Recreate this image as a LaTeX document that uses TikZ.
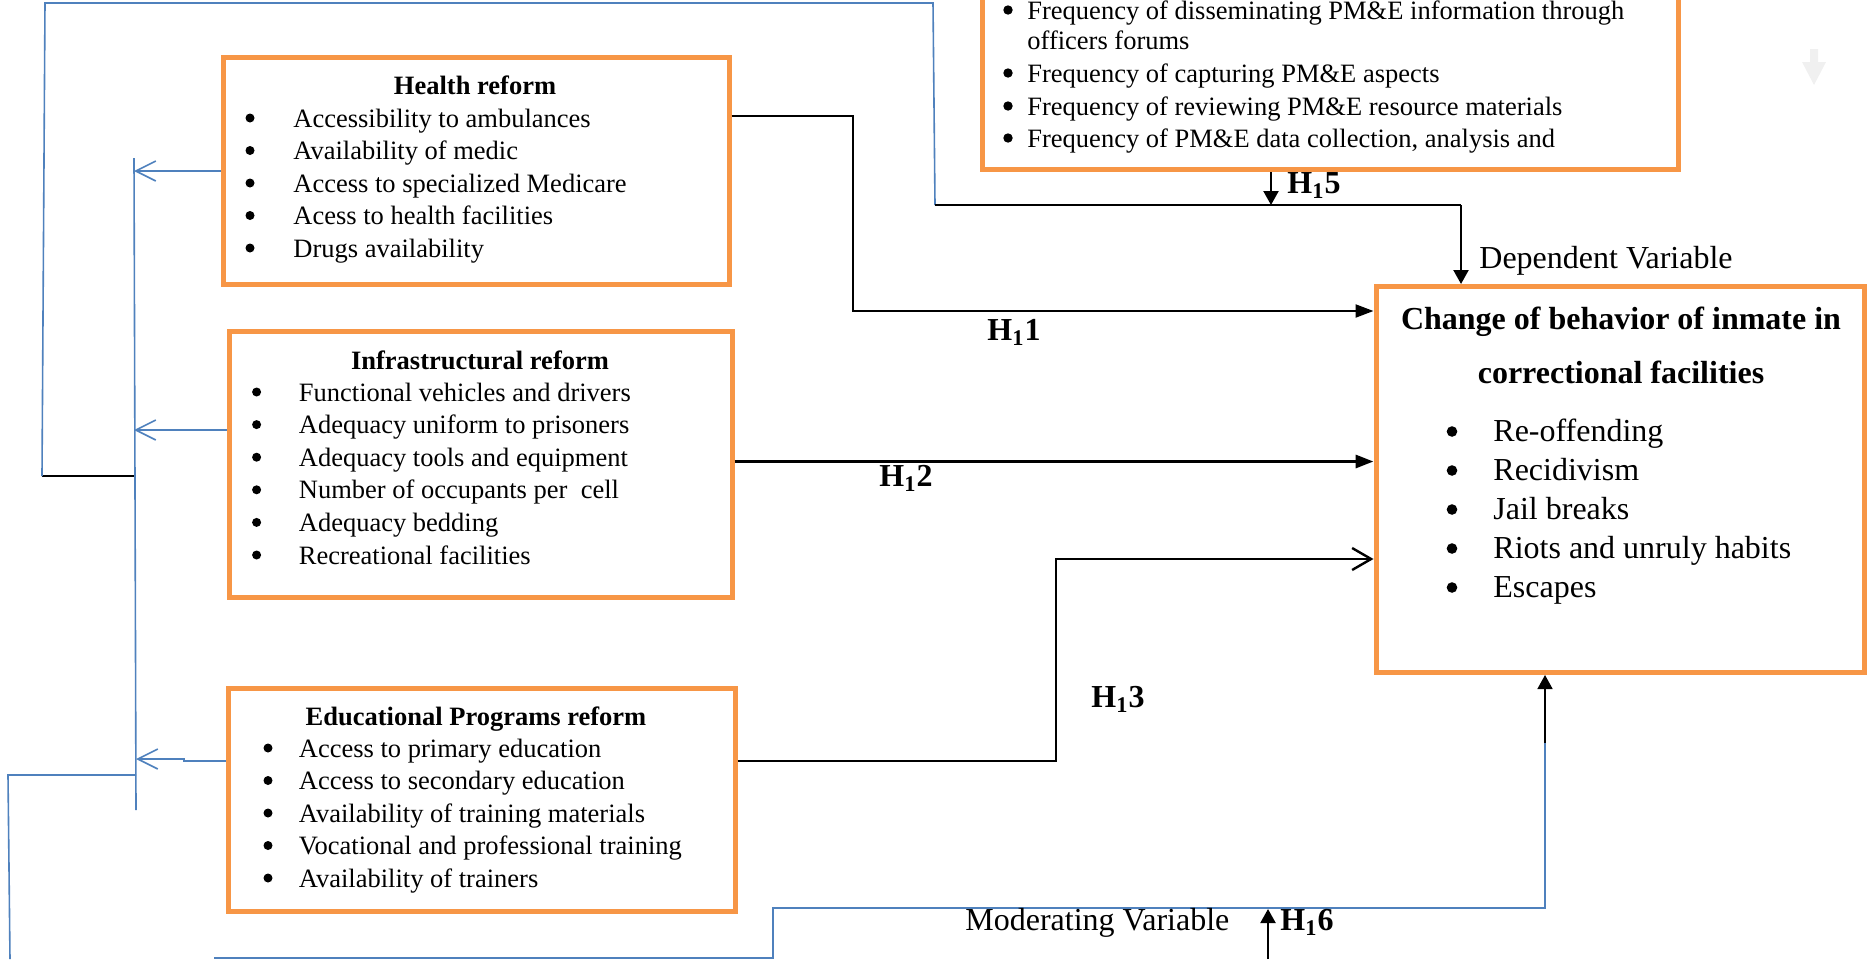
\documentclass[tikz,border=0pt]{standalone}
\usepackage{fontspec}
\setmainfont{Liberation Serif}
\usetikzlibrary{arrows.meta}
\definecolor{boxorange}{HTML}{F79646}
\definecolor{loopblue}{HTML}{4F81BD}
\definecolor{ghost}{RGB}{240,240,240}
\newcommand{\smallsz}{\fontsize{13.25pt}{16pt}\selectfont}
\newcommand{\bigsz}{\fontsize{16pt}{19.5pt}\selectfont}

\begin{document}
\begin{tikzpicture}[x=0.5pt,y=-0.5pt,
	varbox/.style={draw=boxorange,line width=2.5pt,inner sep=0pt},
	listline/.style={anchor=base west,inner sep=0pt,font=\smallsz},
	biglist/.style={anchor=base west,inner sep=0pt,font=\bigsz},
	boxtitle/.style={anchor=base,inner sep=0pt,font=\smallsz\bfseries},
	hyp/.style={inner sep=0pt,font=\bigsz\bfseries},
	link/.style={line width=1.1pt},
	fbline/.style={draw=loopblue,line width=0.8pt},
	fulltip/.style={-{Triangle[length=9pt,width=6.5pt]}},
	droptip/.style={-{Triangle[length=7pt,width=7.5pt]}},
	barbtip/.style={-{Straight Barb[length=9.5pt,width=11pt,line width=1.2pt]}},
	bluetip/.style={-{Straight Barb[length=10pt,width=10pt,line width=0.8pt]}}]
	\useasboundingbox (0,0) rectangle (1868,959);
	\clip (0,0) rectangle (1868,959);
	\node[varbox,minimum width=252.75pt,minimum height=113.25pt] (health) at (476.25,170.75) {};
	\node[varbox,minimum width=251.5pt,minimum height=133pt] (infra) at (480.5,464.5) {};
	\node[varbox,minimum width=253.5pt,minimum height=111.75pt] (edu) at (481.5,799.75) {};
	\node[varbox,minimum width=348pt,minimum height=114.75pt] (pme) at (1330,54.75) {};
	\node[varbox,minimum width=244pt,minimum height=193pt] (behav) at (1620,479.5) {};
	\node[boxtitle] (health-t) at (475,94) {Health reform};
	\foreach \txt [count=\i] in {Accessibility to ambulances,Availability of medic,Access to specialized Medicare,Acess to health facilities,Drugs availability}{
		\node[listline] (health-\i) at (293,{127+(\i-1)*32.5}) {\txt};
		\fill (250,{118+(\i-1)*32.5}) circle (4.5);
	}
	\node[boxtitle] (infra-t) at (480,369) {Infrastructural reform};
	\foreach \txt [count=\i] in {Functional vehicles and drivers,Adequacy uniform to prisoners,Adequacy tools and equipment,Number of occupants per\ \ cell,Adequacy bedding,Recreational facilities}{
		\node[listline] (infra-\i) at (298.5,{401+(\i-1)*32.6}) {\txt};
		\fill (256.6,{392+(\i-1)*32.6}) circle (4.5);
	}
	\node[boxtitle] (edu-t) at (476,725) {Educational Programs reform};
	\foreach \txt [count=\i] in {Access to primary education,Access to secondary education,Availability of training materials,Vocational and professional training,Availability of trainers}{
		\node[listline] (edu-\i) at (298.5,{757+(\i-1)*32.5}) {\txt};
		\fill (268,{748+(\i-1)*32.5}) circle (4.5);
	}
	\node[listline] (pme-1) at (1027,19) {Frequency of disseminating PM\&E information through};
	\node[listline] (pme-1b) at (1027,49) {officers forums};
	\node[listline] (pme-2) at (1027,82) {Frequency of capturing PM\&E aspects};
	\node[listline] (pme-3) at (1027,115) {Frequency of reviewing PM\&E resource materials};
	\node[listline] (pme-4) at (1027,147) {Frequency of PM\&E data collection, analysis and};
	\foreach \y in {19,82,115,147}
		\fill (1008,\y-9) circle (4.7);
	\node[hyp,anchor=base] (behav-t1) at (1621,329) {Change of behavior of inmate in};
	\node[hyp,anchor=base] (behav-t2) at (1621,383) {correctional facilities};
	\foreach \txt [count=\i] in {Re-offending,Recidivism,Jail breaks,Riots and unruly habits,Escapes}{
		\node[biglist] (behav-\i) at (1493,{441+(\i-1)*39}) {\txt};
		\fill (1452,{431.5+(\i-1)*39}) circle (5.3);
	}
	\coordinate (hone) at (853,116);
	\coordinate (honeb) at (853,311);
	\draw[link,fulltip] (health.east |- hone) -- (hone) -- (honeb) -- (honeb -| behav.west);
	\coordinate (htwo) at (737,461.5);
	\draw[link,line width=1.6pt,fulltip] (infra.east |- htwo) -- (htwo -| behav.west);
	\coordinate (hthree) at (1056,761);
	\coordinate (hthreeb) at (1056,559);
	\draw[link,barbtip] (edu.east |- hthree) -- (hthree) -- (hthreeb) -- (hthreeb -| behav.west);
	\coordinate (stub) at (42,476);
	\coordinate (spine) at (134,476);
	\draw[link,line width=0.9pt] (stub) -- (spine);
	\coordinate (join) at (935,205);
	\coordinate (drop) at (1461,205);
	\coordinate (hfive) at (1271,205);
	\draw[fbline] (stub) -- (45,3) -- (933,3) -- (join);
	\draw[link] (join) -- (drop);
	\draw[link,droptip] (drop) -- (drop |- behav.north);
	\draw[link,droptip] (pme.south -| hfive) -- (hfive);
	\draw[fbline] (134,158) -- (136,810);
	\coordinate (hback) at (134,171);
	\coordinate (iback) at (134,430);
	\coordinate (eback) at (136,759);
	\draw[fbline,bluetip] (health.west |- hback) -- (hback);
	\draw[fbline,bluetip] (infra.west |- iback) -- (iback);
	\draw[fbline,bluetip] (edu.west |- 0,761) -- (184,761) -- (184,759) -- (eback);
	\draw[fbline] (136,775) -- (8,775) -- (10,959);
	\coordinate (rise) at (1545,743);
	\draw[fbline] (214,958) -- (773,958) -- (773,908) -- (1545,908) -- (rise);
	\draw[link,line width=0.8pt,droptip] (rise) -- (rise |- behav.south);
	\coordinate (hsix) at (1268,909);
	\draw[link,droptip] (1268,959) -- (hsix);
	\fill[ghost] (1810,49) -- (1818,49) -- (1818,62) -- (1826,62) -- (1814,85) -- (1802,62) -- (1810,62) -- cycle;
	\node[hyp,anchor=base] (lab-h1) at (1014,340) {H\textsubscript{1}1};
	\node[hyp,anchor=base] (lab-h2) at (906,486) {H\textsubscript{1}2};
	\node[hyp,anchor=base] (lab-h3) at (1118,707) {H\textsubscript{1}3};
	\node[hyp,anchor=base west] (lab-h5) at (1287,193) {H\textsubscript{1}5};
	\node[hyp,anchor=base west] (lab-h6) at (1280,930) {H\textsubscript{1}6};
	\node[biglist] (dep-lab) at (1479,268) {Dependent Variable};
	\node[biglist] (mod-lab) at (965,930) {Moderating Variable};
\end{tikzpicture}
\end{document}
